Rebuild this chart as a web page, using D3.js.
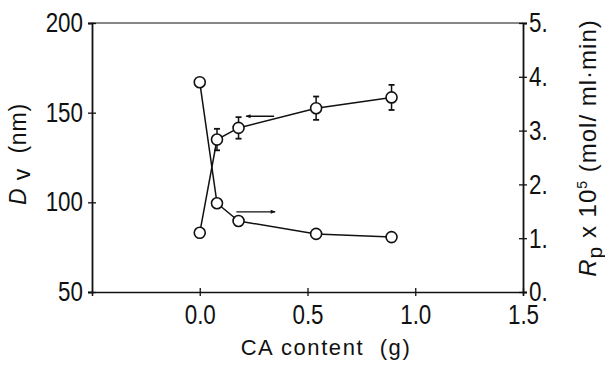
<!DOCTYPE html>
<html>
<head>
<meta charset="utf-8">
<script src="https://cdn.jsdelivr.net/npm/d3@7"></script>
<style>
  html, body { margin: 0; padding: 0; background: #fff; }
  svg { display: block; font-family: "Liberation Sans", Arial, sans-serif; }
</style>
</head>
<body>
<svg id="chart" width="605" height="370"></svg>
<script>
// CA content (g)
const caContent = [0.0, 0.08, 0.18, 0.54, 0.89]
// Dv (nm), with error
const dvValues = [83, 135, 141.5, 152.5, 158.5]
const dvErrors = [0, 6, 6, 6.5, 7]
// Rp x 10^5 (mol/ml·min)
const rpValues = [3.9, 1.65, 1.32, 1.08, 1.02]

const xTicks = [0.0, 0.5, 1.0, 1.5]
const xTickLabels = ["0.0", "0.5", "1.0", "1.5"]
const leftTicks = [50, 100, 150, 200]
const rightTicks = [0, 1, 2, 3, 4, 5]
const rightTickLabels = ["0.", "1.", "2.", "3.", "4.", "5."]

// arrows: [x from, x to, y on the series' own axis]
const dvArrow = [0.345, 0.215, 148]
const rpArrow = [0.17, 0.35, 1.49]

const svg = d3.select("#chart")
const margin = { top: 23, right: 82, bottom: 78, left: 92 }
const width = 605, height = 370
const innerWidth = width - margin.left - margin.right
const innerHeight = height - margin.top - margin.bottom
const narrow = 0.8 // tick digits are tall and narrow

const x = d3.scaleLinear().domain([-0.5, 1.5]).range([0, innerWidth])
const yL = d3.scaleLinear().domain([50, 200]).range([innerHeight, 0])
const yR = d3.scaleLinear().domain([0, 5]).range([innerHeight, 0])

const g = svg.append("g").attr("transform", `translate(${margin.left},${margin.top})`)

// frame top line
g.append("line")
  .attr("x1", 0).attr("x2", innerWidth).attr("y1", 0).attr("y2", 0)
  .attr("stroke", "#111").attr("stroke-width", 1.2)

// x axis
const xAxis = g.append("g")
  .attr("transform", `translate(0,${innerHeight})`)
  .call(d3.axisBottom(x).tickValues(xTicks).tickFormat((d, i) => xTickLabels[i]).tickSizeOuter(0).tickSize(4))
xAxis.select(".domain").attr("stroke", "#111").attr("stroke-width", 1.5)
xAxis.selectAll(".tick line").attr("y1", -4).attr("y2", 4).attr("stroke", "#111").attr("stroke-width", 1.3)
xAxis.selectAll(".tick text")
  .attr("y", 12).attr("font-size", 28).attr("fill", "#111")
  .attr("transform", `scale(${narrow},1)`)

// left axis
const lAxis = g.append("g")
  .call(d3.axisLeft(yL).tickValues(leftTicks).tickSizeOuter(0).tickSize(4))
lAxis.select(".domain").attr("stroke", "#111").attr("stroke-width", 1.8)
lAxis.selectAll(".tick line").attr("x1", -4).attr("x2", 4).attr("stroke", "#111").attr("stroke-width", 1.3)
lAxis.selectAll(".tick text")
  .attr("x", -9 / narrow).attr("dy", "0.3em").attr("font-size", 28).attr("fill", "#111")
  .attr("transform", `scale(${narrow},1)`)

// right axis
const rAxis = g.append("g")
  .attr("transform", `translate(${innerWidth},0)`)
  .call(d3.axisRight(yR).tickValues(rightTicks).tickFormat((d, i) => rightTickLabels[i]).tickSizeOuter(0).tickSize(4))
rAxis.select(".domain").attr("stroke", "#111").attr("stroke-width", 1.8)
rAxis.selectAll(".tick line").attr("x1", -4).attr("x2", 4).attr("stroke", "#111").attr("stroke-width", 1.3)
rAxis.selectAll(".tick text")
  .attr("x", 6 / narrow).attr("dy", "0.32em").attr("font-size", 28).attr("fill", "#111")
  .attr("transform", `scale(${narrow},1)`)

// axis titles
svg.append("text")
  .attr("x", 326).attr("y", 355)
  .attr("text-anchor", "middle").attr("font-size", 22).attr("letter-spacing", 1.6)
  .attr("fill", "#111")
  .style("white-space", "pre")
  .text("CA content  (g)")

const lt = svg.append("text")
  .attr("transform", "translate(26,154) rotate(-90)")
  .attr("text-anchor", "middle").attr("font-size", 23).attr("letter-spacing", 0.8)
  .attr("fill", "#111")
  .style("white-space", "pre")
lt.append("tspan").attr("font-style", "italic").text("D")
lt.append("tspan").attr("dy", 4).text(" v")
lt.append("tspan").attr("dy", -4).text("  (nm)")

const rt = svg.append("text")
  .attr("transform", "translate(596,148) rotate(-90)")
  .attr("text-anchor", "middle").attr("font-size", 24).attr("letter-spacing", 1)
  .attr("fill", "#111")
  .style("white-space", "pre")
rt.append("tspan").attr("font-style", "italic").text("R")
rt.append("tspan").attr("dy", 6).attr("font-size", 21).text("p")
rt.append("tspan").attr("dy", -6).text(" x 10")
rt.append("tspan").attr("dy", -9).attr("font-size", 14).text("5")
rt.append("tspan").attr("dy", 9).text(" (mol/ ml·min)")

// marker
svg.append("defs").append("marker")
  .attr("id", "arrow").attr("viewBox", "0 0 10 10")
  .attr("refX", 9).attr("refY", 5)
  .attr("markerWidth", 7).attr("markerHeight", 5)
  .attr("orient", "auto-start-reverse")
  .attr("markerUnits", "userSpaceOnUse")
  .append("path").attr("d", "M0,1L10,5L0,9Z").attr("fill", "#111")

const dvData = caContent.map((c, i) => ({ x: c, y: dvValues[i], e: dvErrors[i] }))
const rpData = caContent.map((c, i) => ({ x: c, y: rpValues[i] }))

// lines
g.append("path").datum(rpData)
  .attr("fill", "none").attr("stroke", "#111").attr("stroke-width", 1.5)
  .attr("d", d3.line().x(d => x(d.x)).y(d => yR(d.y)))
g.append("path").datum(dvData)
  .attr("fill", "none").attr("stroke", "#111").attr("stroke-width", 1.5)
  .attr("d", d3.line().x(d => x(d.x)).y(d => yL(d.y)))

// error bars
const eb = g.selectAll(".err").data(dvData.filter(d => d.e > 0)).enter().append("g").attr("class", "err")
eb.append("line")
  .attr("x1", d => x(d.x)).attr("x2", d => x(d.x))
  .attr("y1", d => yL(d.y + d.e)).attr("y2", d => yL(d.y - d.e))
  .attr("stroke", "#111").attr("stroke-width", 1.5)
eb.append("line")
  .attr("x1", d => x(d.x) - 3).attr("x2", d => x(d.x) + 3)
  .attr("y1", d => yL(d.y + d.e)).attr("y2", d => yL(d.y + d.e))
  .attr("stroke", "#111").attr("stroke-width", 1.8)
eb.append("line")
  .attr("x1", d => x(d.x) - 3).attr("x2", d => x(d.x) + 3)
  .attr("y1", d => yL(d.y - d.e)).attr("y2", d => yL(d.y - d.e))
  .attr("stroke", "#111").attr("stroke-width", 1.8)

// circles
g.selectAll(".rp").data(rpData).enter().append("circle")
  .attr("class", "rp")
  .attr("cx", d => x(d.x)).attr("cy", d => yR(d.y)).attr("r", 5.5)
  .attr("fill", "#fff").attr("stroke", "#111").attr("stroke-width", 1.6)
g.selectAll(".dv").data(dvData).enter().append("circle")
  .attr("class", "dv")
  .attr("cx", d => x(d.x)).attr("cy", d => yL(d.y)).attr("r", 5.5)
  .attr("fill", "#fff").attr("stroke", "#111").attr("stroke-width", 1.6)

// arrows
g.append("line")
  .attr("x1", x(dvArrow[0])).attr("x2", x(dvArrow[1]))
  .attr("y1", yL(dvArrow[2])).attr("y2", yL(dvArrow[2]))
  .attr("stroke", "#111").attr("stroke-width", 1.5)
  .attr("marker-end", "url(#arrow)")
g.append("line")
  .attr("x1", x(rpArrow[0])).attr("x2", x(rpArrow[1]))
  .attr("y1", yR(rpArrow[2])).attr("y2", yR(rpArrow[2]))
  .attr("stroke", "#111").attr("stroke-width", 1.2)
  .attr("marker-end", "url(#arrow)")
</script>
</body>
</html>
